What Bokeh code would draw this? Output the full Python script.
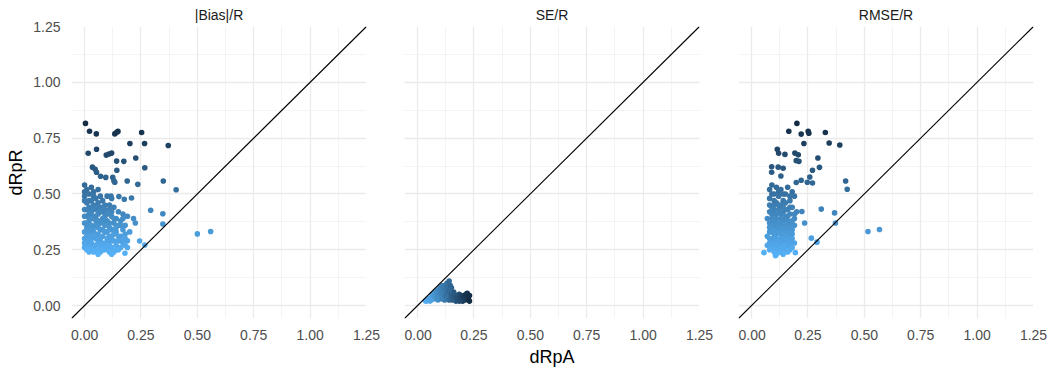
from bokeh.plotting import figure
from bokeh.layouts import row
from bokeh.models import FixedTicker, Slope, LinearColorMapper, ColumnDataSource, Range1d
from bokeh.embed import file_html
from bokeh.resources import INLINE

# ---------------- data ----------------
panel_titles = ["|Bias|/R", "SE/R", "RMSE/R"]
tick_values = [0.0, 0.25, 0.5, 0.75, 1.0, 1.25]
tick_labels = ["0.00", "0.25", "0.50", "0.75", "1.00", "1.25"]
minor_values = [0.125, 0.375, 0.625, 0.875, 1.125]

bias_x = [0.004, 0.022, 0.052, 0.134, 0.148, 0.141, 0.253, 0.201, 0.266, 0.371, 0.016, 0.053,
          0.096, 0.108, 0.12, 0.142, 0.174, 0.227, 0.267, 0.035, 0.047, 0.053, 0.071, 0.094,
          0.143, 0.125, 0.13, 0.134, 0.189, 0.236, 0.349, 0.406, 0.117, 0.152, 0.176, 0.208,
          0.293, 0.347, 0.217, 0.225, 0.347, 0.50, 0.559, 0.244, 0.267, 0.179, 0.003,
          0.00, 0.01, 0.03, 0.02, 0.00, 0.04, 0.06, 0.05, 0.07, 0.03, 0.01, 0.06, 0.08, 0.10,
          0.04, 0.09, 0.12, 0.02, 0.07,
          0.00, 0.03, 0.05, 0.08, 0.11, 0.13, 0.15, 0.01, 0.04, 0.06, 0.09, 0.12, 0.14, 0.17,
          0.19, 0.02, 0.05, 0.07, 0.10, 0.13, 0.16, 0.03, 0.06, 0.09, 0.11, 0.15, 0.18, 0.01,
          0.08, 0.12, 0.14, 0.17,
          0.00, 0.02, 0.04, 0.06, 0.09, 0.11, 0.13, 0.16, 0.18, 0.03, 0.05, 0.07, 0.10, 0.12,
          0.15, 0.17, 0.19, 0.01, 0.04, 0.06, 0.08, 0.11, 0.14, 0.16, 0.18, 0.00, 0.02, 0.03,
          0.05, 0.07, 0.09, 0.11, 0.13, 0.15, 0.04, 0.06, 0.12,
          0.00, 0.00, 0.00, 0.00, 0.00, 0.00, 0.01, 0.01, 0.01, 0.01, 0.02, 0.02, 0.02, 0.02,
          0.02, 0.03, 0.03, 0.03, 0.04, 0.04, 0.04, 0.05, 0.05, 0.05, 0.06, 0.06, 0.06, 0.07,
          0.07, 0.07, 0.08, 0.08, 0.08, 0.09, 0.09, 0.09, 0.10, 0.10, 0.10, 0.11, 0.11, 0.11,
          0.12, 0.12, 0.12, 0.13, 0.13, 0.14, 0.14, 0.15, 0.16, 0.16, 0.17, 0.18, 0.19, 0.20]
bias_y = [0.816, 0.781, 0.769, 0.769, 0.78, 0.775, 0.775, 0.726, 0.726, 0.717, 0.682, 0.70,
          0.674, 0.679, 0.683, 0.647, 0.646, 0.661, 0.617, 0.62, 0.61, 0.597, 0.579, 0.574,
          0.606, 0.574, 0.559, 0.552, 0.558, 0.543, 0.558, 0.519, 0.491, 0.488, 0.476, 0.482,
          0.427, 0.411, 0.39, 0.37, 0.365, 0.321, 0.332, 0.289, 0.271, 0.234, 0.265,
          0.54, 0.52, 0.53, 0.50, 0.49, 0.51, 0.52, 0.48, 0.49, 0.47, 0.46, 0.46, 0.47, 0.49,
          0.45, 0.45, 0.48, 0.44, 0.44,
          0.43, 0.42, 0.43, 0.42, 0.43, 0.44, 0.42, 0.40, 0.40, 0.41, 0.40, 0.40, 0.39, 0.41,
          0.40, 0.38, 0.38, 0.37, 0.38, 0.37, 0.38, 0.36, 0.35, 0.36, 0.35, 0.36, 0.36, 0.35,
          0.34, 0.34, 0.33, 0.34,
          0.33, 0.32, 0.33, 0.32, 0.33, 0.31, 0.32, 0.31, 0.32, 0.30, 0.30, 0.29, 0.30, 0.29,
          0.29, 0.28, 0.29, 0.28, 0.27, 0.28, 0.27, 0.27, 0.27, 0.26, 0.27, 0.26, 0.26, 0.25,
          0.25, 0.24, 0.25, 0.24, 0.24, 0.25, 0.24, 0.23, 0.23,
          0.51, 0.47, 0.40, 0.37, 0.30, 0.28, 0.43, 0.37, 0.31, 0.25, 0.47, 0.41, 0.34, 0.29,
          0.24, 0.39, 0.44, 0.28, 0.49, 0.35, 0.31, 0.40, 0.36, 0.27, 0.44, 0.38, 0.30, 0.42,
          0.34, 0.26, 0.39, 0.31, 0.25, 0.43, 0.38, 0.28, 0.41, 0.33, 0.26, 0.45, 0.37, 0.29,
          0.42, 0.31, 0.26, 0.39, 0.29, 0.35, 0.25, 0.31, 0.36, 0.29, 0.39, 0.30, 0.26, 0.33]

se_x = [0.035, 0.045, 0.05, 0.055, 0.06, 0.065, 0.07, 0.07, 0.075, 0.08, 0.08, 0.085, 0.09,
        0.09, 0.095, 0.10, 0.10, 0.10, 0.105, 0.11, 0.11, 0.115, 0.12, 0.12, 0.125, 0.13, 0.13,
        0.135, 0.14, 0.14, 0.145, 0.15, 0.15, 0.155, 0.16, 0.16, 0.165, 0.17, 0.175, 0.18,
        0.185, 0.19, 0.195, 0.20, 0.205, 0.21, 0.215, 0.22, 0.225, 0.23, 0.23, 0.17, 0.14,
        0.12, 0.09, 0.06, 0.105, 0.155, 0.20, 0.185, 0.125, 0.11, 0.095,
        0.04, 0.05, 0.06, 0.065, 0.075, 0.08, 0.085, 0.09, 0.095, 0.10, 0.105, 0.11, 0.115,
        0.12, 0.125, 0.13, 0.135, 0.14, 0.145, 0.15, 0.155, 0.16, 0.165, 0.17, 0.175, 0.18,
        0.19, 0.20, 0.21, 0.22, 0.215, 0.225]
se_y = [0.02, 0.025, 0.03, 0.02, 0.035, 0.04, 0.03, 0.05, 0.045, 0.06, 0.035, 0.05, 0.07,
        0.04, 0.055, 0.08, 0.06, 0.045, 0.07, 0.09, 0.05, 0.065, 0.08, 0.04, 0.06, 0.10, 0.05,
        0.07, 0.11, 0.045, 0.06, 0.08, 0.035, 0.05, 0.04, 0.06, 0.03, 0.045, 0.025, 0.035,
        0.05, 0.025, 0.04, 0.03, 0.045, 0.025, 0.035, 0.055, 0.03, 0.045, 0.02, 0.02, 0.025,
        0.025, 0.025, 0.025, 0.03, 0.025, 0.02, 0.02, 0.09, 0.075, 0.065,
        0.02, 0.025, 0.03, 0.05, 0.04, 0.05, 0.03, 0.06, 0.045, 0.07, 0.055, 0.065, 0.08,
        0.07, 0.045, 0.085, 0.06, 0.07, 0.09, 0.05, 0.04, 0.05, 0.045, 0.035, 0.04, 0.025,
        0.035, 0.04, 0.04, 0.04, 0.05, 0.045]

rmse_x = [0.201, 0.165, 0.22, 0.251, 0.254, 0.327, 0.232, 0.344, 0.391, 0.114, 0.12, 0.148,
          0.192, 0.207, 0.198, 0.21, 0.294, 0.089, 0.089, 0.118, 0.14, 0.13, 0.27, 0.301,
          0.258, 0.22, 0.198, 0.247, 0.27, 0.417, 0.424, 0.309, 0.368, 0.223, 0.235, 0.372,
          0.516, 0.567, 0.265, 0.29, 0.194, 0.055, 0.106,
          0.09, 0.11, 0.13, 0.16, 0.10, 0.12, 0.15, 0.18, 0.08, 0.14, 0.17, 0.11, 0.13, 0.19,
          0.10,
          0.09, 0.12, 0.14, 0.16, 0.18, 0.08, 0.10, 0.13, 0.15, 0.17, 0.20, 0.09, 0.11, 0.14,
          0.16, 0.19, 0.08, 0.10, 0.12, 0.15, 0.17, 0.11, 0.13, 0.19, 0.09,
          0.08, 0.10, 0.12, 0.14, 0.16, 0.18, 0.09, 0.11, 0.13, 0.15, 0.17, 0.08, 0.10, 0.12,
          0.14, 0.16, 0.19, 0.09, 0.11, 0.13, 0.15, 0.17, 0.07, 0.10, 0.12, 0.14,
          0.08, 0.09, 0.10, 0.12, 0.14, 0.15, 0.17, 0.08, 0.09, 0.10, 0.11, 0.12, 0.13, 0.14,
          0.15, 0.16, 0.17, 0.18, 0.19, 0.07, 0.08, 0.10, 0.11, 0.12, 0.13, 0.14, 0.16, 0.17,
          0.18, 0.09, 0.11, 0.13, 0.15, 0.17, 0.07, 0.08, 0.10, 0.12, 0.14, 0.16, 0.18, 0.09,
          0.11, 0.13, 0.15, 0.17, 0.08, 0.10, 0.12, 0.14, 0.16, 0.18, 0.11, 0.13]
rmse_y = [0.816, 0.781, 0.768, 0.78, 0.772, 0.775, 0.726, 0.728, 0.719, 0.70, 0.682, 0.677,
          0.683, 0.675, 0.649, 0.646, 0.661, 0.622, 0.597, 0.62, 0.615, 0.58, 0.606, 0.619,
          0.576, 0.561, 0.551, 0.552, 0.549, 0.558, 0.521, 0.432, 0.415, 0.421, 0.37, 0.37,
          0.332, 0.341, 0.302, 0.284, 0.237, 0.237, 0.223,
          0.54, 0.53, 0.52, 0.53, 0.50, 0.49, 0.50, 0.51, 0.48, 0.47, 0.47, 0.46, 0.45, 0.49,
          0.45,
          0.44, 0.43, 0.44, 0.43, 0.44, 0.42, 0.41, 0.41, 0.40, 0.41, 0.42, 0.39, 0.39, 0.38,
          0.38, 0.39, 0.37, 0.36, 0.37, 0.36, 0.35, 0.34, 0.35, 0.36, 0.35,
          0.33, 0.32, 0.33, 0.32, 0.33, 0.32, 0.30, 0.30, 0.30, 0.29, 0.30, 0.28, 0.28, 0.27,
          0.28, 0.27, 0.28, 0.26, 0.25, 0.26, 0.25, 0.25, 0.27, 0.24, 0.24, 0.23,
          0.52, 0.50, 0.47, 0.51, 0.50, 0.46, 0.49, 0.45, 0.41, 0.43, 0.41, 0.45, 0.39, 0.42,
          0.43, 0.40, 0.44, 0.38, 0.41, 0.39, 0.35, 0.38, 0.36, 0.35, 0.37, 0.34, 0.35, 0.37,
          0.34, 0.33, 0.32, 0.32, 0.31, 0.32, 0.31, 0.30, 0.30, 0.29, 0.30, 0.29, 0.30, 0.27,
          0.27, 0.28, 0.27, 0.28, 0.25, 0.26, 0.25, 0.26, 0.24, 0.26, 0.23, 0.24]

# ---------------- style ----------------
FONT = "Liberation Sans"
LOW, HIGH = (0x56, 0xB1, 0xF7), (0x13, 0x2B, 0x43)
palette = ["#%02x%02x%02x" % tuple(round(a + (b - a) * i / 255) for a, b in zip(LOW, HIGH))
           for i in range(256)]

xr = (-0.058, 1.25)
yr = (-0.058, 1.25)


def make_panel(title, xs, ys, color_field, lo, hi, width, left, right,
               show_y=False, xlabel=None, ylabel=None):
    p = figure(width=width, height=369, output_backend="svg", toolbar_location=None,
               x_range=Range1d(*xr), y_range=Range1d(*yr),
               min_border_left=left, min_border_right=right,
               min_border_top=25, min_border_bottom=49, title=title)
    p.title.align = "center"
    p.title.text_font = FONT
    p.title.text_font_size = "14px"
    p.title.text_font_style = "normal"
    p.title.text_color = "#1A1A1A"
    p.title.standoff = 8
    p.outline_line_color = None
    p.background_fill_color = "white"
    p.border_fill_color = "white"

    ticker = FixedTicker(ticks=tick_values, minor_ticks=minor_values)
    for ax in (p.xaxis[0], p.yaxis[0]):
        ax.ticker = ticker
        ax.major_label_overrides = {v: l for v, l in zip(tick_values, tick_labels)}
        ax.axis_line_color = None
        ax.major_tick_line_color = None
        ax.minor_tick_line_color = None
        ax.major_label_text_font = FONT
        ax.major_label_text_font_size = "14px"
        ax.major_label_text_color = "#4D4D4D"
        ax.major_label_standoff = 5
        ax.axis_label_text_font = FONT
        ax.axis_label_text_font_size = "18px"
        ax.axis_label_text_font_style = "normal"
        ax.axis_label_text_color = "black"
        ax.axis_label_standoff = 4
    if xlabel:
        p.xaxis.axis_label = xlabel
    if ylabel:
        p.yaxis.axis_label = ylabel
    if not show_y:
        p.yaxis.visible = False

    for g in (p.xgrid[0], p.ygrid[0]):
        g.ticker = ticker
        g.grid_line_color = "#EBEBEB"
        g.grid_line_width = 1.3
        g.minor_grid_line_color = "#EFEFEF"
        g.minor_grid_line_width = 0.7

    p.add_layout(Slope(gradient=1, y_intercept=0, line_color="black", line_width=1.1))

    src = ColumnDataSource(dict(x=xs, y=ys))
    mapper = LinearColorMapper(palette=palette, low=lo, high=hi)
    p.scatter("x", "y", source=src, size=5.6, line_color=None,
              fill_color={"field": color_field, "transform": mapper})
    return p


p1 = make_panel(panel_titles[0], bias_x, bias_y, "y", min(bias_y), max(bias_y),
                404, 71, 38, show_y=True, ylabel="dRpR")
p2 = make_panel(panel_titles[1], se_x, se_y, "x", min(se_x), max(se_x),
                334, 0, 39, xlabel="dRpA")
p3 = make_panel(panel_titles[2], rmse_x, rmse_y, "y", min(rmse_y), max(rmse_y),
                311, 0, 16)

layout = row(p1, p2, p3, spacing=0)
open("out.html", "w").write(file_html(layout, INLINE))
